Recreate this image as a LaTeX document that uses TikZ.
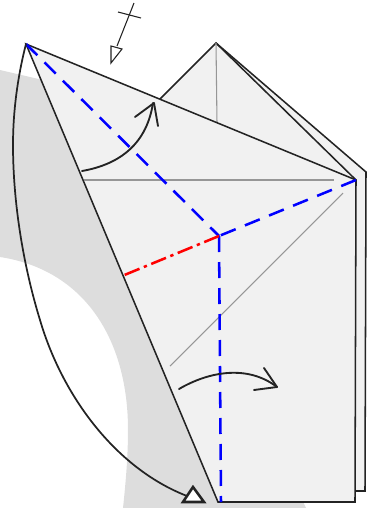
\documentclass[tikz,border=0pt]{standalone}
\usetikzlibrary{calc}
\definecolor{bandgrey}{RGB}{221,221,221}
\definecolor{paper}{RGB}{241,241,241}
\definecolor{ink}{RGB}{35,35,35}
\definecolor{crease}{RGB}{150,150,150}
\tikzset{
  edge/.style={draw=ink,line width=1.15pt,line join=miter},
  thin crease/.style={draw=crease,line width=0.8pt},
  valley/.style={draw=blue,line width=1.9pt,dash pattern=on 12pt off 7.5pt},
  mountain/.style={draw=red,line width=1.9pt,dash pattern=on 12pt off 3.5pt on 2.5pt off 3.5pt},
  sweep/.style={draw=ink,line width=1.4pt,line cap=round,line join=round},
}
\begin{document}
\begin{tikzpicture}[x=0.75pt,y=-0.75pt]
\useasboundingbox (0,0) rectangle (377,508);
\coordinate (tip) at (26,44);
\coordinate (right) at (356,180);
\coordinate (centre) at (219,236);
\coordinate (foot) at (221,502);
\coordinate (redend) at (122,276);
% grey band
\fill[bandgrey] (0,70) -- (60,84) -- (300,495) -- (306,508) -- (123,508)
  .. controls (126,480) and (128,455) .. (128,430)
  .. controls (128,340) and (85,270) .. (0,257) -- cycle;
% back layers
\filldraw[edge,fill=paper] (355,491) -- (365,491) -- (366,172) -- (216,43) -- (160,99) -- (216,300) -- cycle;
\draw[edge] (216,43) -- (right);
\draw[thin crease] (216,43) -- (217,123);
% front flap
\filldraw[edge,fill=paper] (tip) -- (right) -- (355,502) -- (218,502) -- cycle;
% creases
\draw[thin crease] (84,180) -- (334,180);
\draw[thin crease] (343,193) -- (170,366);
\draw[valley] (tip) -- (centre);
\draw[valley] (right) -- (centre);
\draw[valley] (centre) -- (foot);
\draw[mountain] (centre) -- (redend);
% fold arrows
\draw[sweep] (82,171) .. controls (122,164) and (147,142) .. (153,103);
\draw[sweep] (135,117) -- (154,103) -- (158,126);
\draw[sweep] (179,389) .. controls (208,372) and (247,364) .. (277,387);
\draw[sweep] (264,368) -- (277,387) -- (254,390);
% long arrow
\draw[edge,line width=1.3pt] (tip) .. controls (18,75) and (13,110) .. (13,145)
  .. controls (13,205) and (24,268) .. (40,320)
  .. controls (62,395) and (115,468) .. (187,496);
\draw[draw=ink,line width=1.9pt,fill=white,line join=miter] (183,502) -- (204,502) -- (193,487) -- cycle;
% repeat arrow
\draw[draw=ink,line width=0.8pt] (134,3) -- (117,46);
\draw[draw=ink,line width=0.8pt] (118,12) -- (141,18);
\draw[draw=ink,line width=0.8pt,fill=white] (111,46) -- (122,49) -- (111,63) -- cycle;
\end{tikzpicture}
\end{document}
